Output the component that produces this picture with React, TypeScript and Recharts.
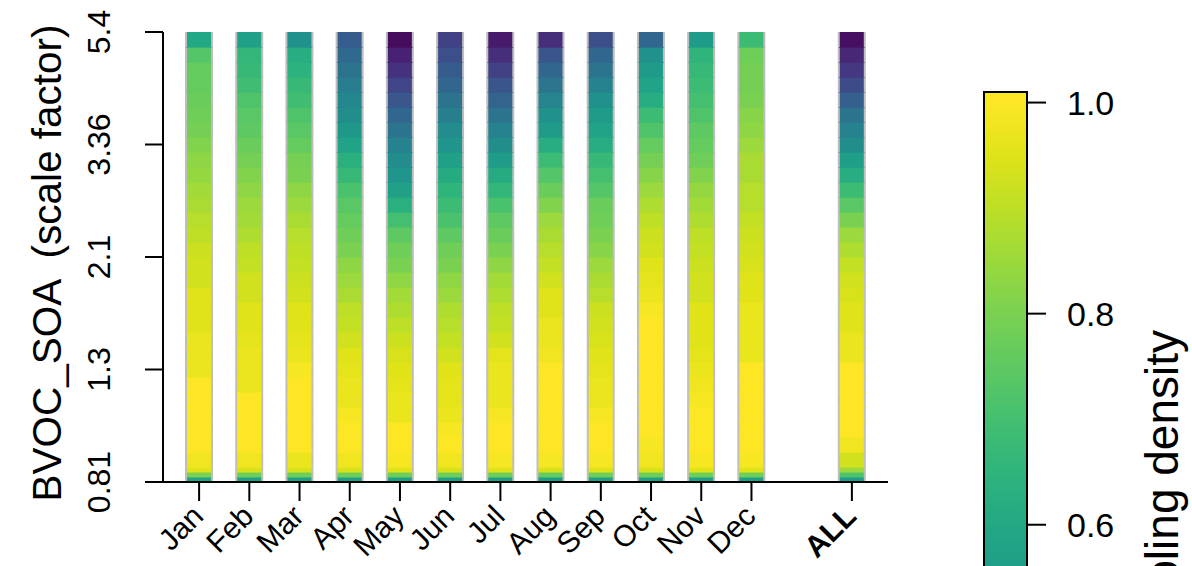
import React from 'react';
import { BarChart, Bar, Cell, XAxis, YAxis } from 'recharts';

// columns of the density strip plot (blank entry = gap before ALL)
const columns = ['Jan', 'Feb', 'Mar', 'Apr', 'May', 'Jun', 'Jul', 'Aug', 'Sep', 'Oct', 'Nov', 'Dec', '', 'ALL'];

// bin heights in level units: three thin bins at the bottom, then full bins up to 5.4
const binHeights = [0.34, 0.33, 0.33, ...Array(29).fill(1)];

// sampling density per bin, bottom (0.81) to top (5.4)
const jan = [0.58, 0.8, 0.95, 0.98, 1, 1, 1, 1, 1, 0.97, 0.97, 0.97, 0.95, 0.95, 0.95, 0.93, 0.93, 0.92, 0.9, 0.89, 0.87, 0.86, 0.84, 0.83, 0.81, 0.79, 0.78, 0.77, 0.76, 0.76, 0.73, 0.6];
const feb = [0.56, 0.78, 0.94, 0.98, 1, 1, 1, 1, 0.97, 0.97, 0.97, 0.96, 0.95, 0.95, 0.93, 0.93, 0.91, 0.9, 0.88, 0.86, 0.85, 0.83, 0.81, 0.79, 0.77, 0.75, 0.74, 0.72, 0.69, 0.67, 0.66, 0.57];
const mar = [0.56, 0.78, 0.94, 0.97, 1, 1, 1, 1, 1, 0.99, 0.97, 0.96, 0.95, 0.95, 0.93, 0.92, 0.91, 0.9, 0.89, 0.87, 0.85, 0.83, 0.8, 0.79, 0.76, 0.74, 0.72, 0.69, 0.67, 0.64, 0.62, 0.5];
const apr = [0.56, 0.78, 0.94, 0.98, 1, 1, 0.99, 0.97, 0.97, 0.96, 0.95, 0.93, 0.91, 0.9, 0.87, 0.85, 0.83, 0.8, 0.78, 0.76, 0.74, 0.71, 0.67, 0.63, 0.58, 0.53, 0.49, 0.46, 0.42, 0.38, 0.34, 0.29];
const may = [0.56, 0.78, 0.95, 0.99, 1, 1, 0.97, 0.97, 0.96, 0.95, 0.94, 0.92, 0.9, 0.88, 0.86, 0.83, 0.8, 0.78, 0.75, 0.7, 0.63, 0.57, 0.52, 0.48, 0.44, 0.38, 0.33, 0.27, 0.2, 0.14, 0.09, 0.03];
const jun = [0.56, 0.78, 0.94, 0.98, 1, 0.99, 0.97, 0.96, 0.96, 0.95, 0.93, 0.91, 0.89, 0.88, 0.85, 0.83, 0.8, 0.78, 0.75, 0.71, 0.68, 0.65, 0.61, 0.57, 0.52, 0.48, 0.43, 0.38, 0.33, 0.29, 0.24, 0.19];
const jul = [0.56, 0.78, 0.95, 0.99, 1, 1, 0.99, 0.97, 0.97, 0.97, 0.96, 0.93, 0.91, 0.9, 0.88, 0.86, 0.83, 0.8, 0.77, 0.75, 0.71, 0.66, 0.61, 0.55, 0.49, 0.44, 0.38, 0.32, 0.26, 0.19, 0.13, 0.07];
const aug = [0.55, 0.76, 0.94, 0.99, 1, 1, 1, 1, 1, 1, 0.98, 0.97, 0.97, 0.95, 0.95, 0.93, 0.91, 0.89, 0.87, 0.85, 0.81, 0.77, 0.73, 0.68, 0.62, 0.55, 0.5, 0.45, 0.39, 0.33, 0.26, 0.13];
const sep = [0.56, 0.78, 0.95, 0.99, 1, 1, 0.99, 0.97, 0.97, 0.96, 0.95, 0.94, 0.93, 0.92, 0.89, 0.87, 0.85, 0.82, 0.8, 0.78, 0.77, 0.73, 0.7, 0.67, 0.62, 0.58, 0.55, 0.5, 0.44, 0.38, 0.33, 0.24];
const oct = [0.56, 0.78, 0.94, 0.98, 0.99, 1, 1, 1, 1, 1, 1, 1, 1, 0.99, 0.97, 0.96, 0.95, 0.93, 0.92, 0.9, 0.88, 0.85, 0.82, 0.79, 0.76, 0.72, 0.68, 0.62, 0.58, 0.55, 0.5, 0.33];
const nov = [0.56, 0.78, 0.95, 0.99, 1, 1, 1, 0.99, 0.98, 0.97, 0.96, 0.95, 0.95, 0.95, 0.93, 0.93, 0.92, 0.91, 0.9, 0.88, 0.86, 0.84, 0.81, 0.78, 0.76, 0.75, 0.72, 0.7, 0.68, 0.67, 0.65, 0.55];
const dec = [0.56, 0.78, 0.95, 0.99, 1, 1, 1, 1, 1, 1, 0.97, 0.97, 0.97, 0.97, 0.95, 0.95, 0.94, 0.93, 0.92, 0.91, 0.89, 0.89, 0.87, 0.87, 0.85, 0.83, 0.82, 0.8, 0.79, 0.79, 0.78, 0.68];
const all = [0.55, 0.72, 0.85, 0.93, 0.98, 1, 1, 1, 1, 1, 0.97, 0.97, 0.95, 0.95, 0.94, 0.93, 0.91, 0.88, 0.85, 0.8, 0.74, 0.68, 0.62, 0.56, 0.49, 0.44, 0.38, 0.3, 0.23, 0.16, 0.11, 0.04];

const densities: number[][] = [jan, feb, mar, apr, may, jun, jul, aug, sep, oct, nov, dec, [], all];

// y axis: level positions (log spaced) and their labels
const yTickLevels = [0, 7.5, 15, 22.5, 30];
const yTickLabels = ['0.81', '1.3', '2.1', '3.36', '5.4'];

// colour bar
const legendTicks = [0.2, 0.4, 0.6, 0.8, 1.0];
const legendMax = 1.01;

// viridis, every 0.05
const viridis = [
    '#440154', '#471365', '#482475', '#463480', '#414487', '#3b528b', '#355f8d',
    '#2f6c8e', '#2a788e', '#25848e', '#21918c', '#1e9c89', '#22a884', '#2fb47c',
    '#44bf70', '#5ec962', '#7ad151', '#9bd93c', '#bddf26', '#dfe318', '#fde725'
];

const FONT = '"Liberation Sans", Arial, Helvetica, sans-serif';
const levelTop = binHeights.reduce((s, h) => s + h, 0);
const binKeys = binHeights.map((_, i) => `b${i}`);

function viridisColor(d: number) {
    const t = Math.max(0, Math.min(1, d)) * (viridis.length - 1);
    const i = Math.min(Math.floor(t), viridis.length - 2);
    const f = t - i;
    const a = viridis[i], b = viridis[i + 1];
    const ch = (s: string, k: number) => parseInt(s.slice(1 + 2 * k, 3 + 2 * k), 16);
    const mix = [0, 1, 2].map(k => Math.round(ch(a, k) + (ch(b, k) - ch(a, k)) * f));
    return `rgb(${mix.join(',')})`;
}

const tableData = columns.map((name, c) => {
    const row: any = { name };
    densities[c].forEach((_, i) => { row[binKeys[i]] = binHeights[i]; });
    return row;
});

const legendData = [{ name: 'density', value: legendMax }];

const Segment = (props: any) => {
    const { x, y, width, height, fill } = props;
    if (!height) return null;
    return (
        <g>
            <rect x={x} y={y} width={width} height={height + 0.6} fill={fill} />
            <line x1={x} x2={x} y1={y} y2={y + height} stroke="#bebebe" strokeWidth={2} />
            <line x1={x + width} x2={x + width} y1={y} y2={y + height} stroke="#bebebe" strokeWidth={2} />
        </g>
    );
};

const MonthTick = (props: any) => {
    const { x, y, payload } = props;
    if (!payload.value) return null;
    const ax = x + 6;
    const ay = y + 36;
    return (
        <g>
            <line x1={x} x2={x} y1={y} y2={y + 19} stroke="#000" strokeWidth={2} />
            <text
                x={ax}
                y={ay}
                textAnchor="end"
                transform={`rotate(-45, ${ax}, ${ay})`}
                fontFamily={FONT}
                fontSize={30}
                fontWeight={payload.value === 'ALL' ? 'bold' : 'normal'}
                fill="#000"
            >
                {payload.value}
            </text>
        </g>
    );
};

const LevelTick = (props: any) => {
    const { x, y, payload } = props;
    const idx = yTickLevels.indexOf(payload.value);
    const bx = x - 53;
    return (
        <g>
            <line x1={x - 18} x2={x} y1={y} y2={y} stroke="#000" strokeWidth={2} />
            <text
                x={bx}
                y={y}
                textAnchor="middle"
                transform={`rotate(-90, ${bx}, ${y})`}
                fontFamily={FONT}
                fontSize={32}
                fill="#000"
            >
                {yTickLabels[idx]}
            </text>
        </g>
    );
};

const YTitle = (props: any) => {
    const { viewBox } = props;
    const tx = viewBox.x + 61;
    const ty = viewBox.y + viewBox.height / 2 + 6;
    return (
        <text
            x={tx}
            y={ty}
            textAnchor="middle"
            transform={`rotate(-90, ${tx}, ${ty})`}
            fontFamily={FONT}
            fontSize={40.5}
            fill="#000"
            style={{ whiteSpace: 'pre' }}
        >
            {'BVOC_SOA  (scale factor)'}
        </text>
    );
};

const LegendTitle = (props: any) => {
    const { viewBox } = props;
    const tx = viewBox.x + 151;
    const ty = 330;
    return (
        <text
            x={tx}
            y={ty}
            textAnchor="end"
            transform={`rotate(-90, ${tx}, ${ty})`}
            fontFamily={FONT}
            fontSize={46}
            fill="#000"
        >
            Sampling density
        </text>
    );
};

const boxLine = { stroke: '#000', strokeWidth: 2 };

export default function App() {
    return (
        <div style={{ position: 'relative', width: 1192, height: 566, overflow: 'hidden', background: '#fff' }}>
            <style>{`body { margin: 0; }`}</style>
            <div style={{ position: 'absolute', left: 0, top: 0 }}>
                <BarChart
                    width={1192}
                    height={566}
                    data={tableData}
                    margin={{ top: 32, right: 304, bottom: 0, left: 0 }}
                    barSize={26}
                >
                    <XAxis
                        dataKey="name"
                        interval={0}
                        padding={{ left: 11, right: 11 }}
                        height={84}
                        tickLine={false}
                        tickSize={0}
                        tickMargin={0}
                        axisLine={boxLine}
                        tick={<MonthTick />}
                    />
                    <XAxis
                        xAxisId="top"
                        orientation="top"
                        dataKey="name"
                        padding={{ left: 11, right: 11 }}
                        height={0}
                        tick={false}
                        tickLine={false}
                        axisLine={boxLine}
                    />
                    <YAxis
                        type="number"
                        domain={[0, levelTop]}
                        ticks={yTickLevels}
                        interval={0}
                        allowDataOverflow
                        width={163}
                        tickLine={false}
                        tickSize={0}
                        tickMargin={0}
                        axisLine={boxLine}
                        tick={<LevelTick />}
                        label={{ content: <YTitle /> }}
                    />
                    <YAxis
                        yAxisId="right"
                        orientation="right"
                        type="number"
                        domain={[0, levelTop]}
                        width={0}
                        tick={false}
                        tickLine={false}
                        axisLine={boxLine}
                    />
                    {binKeys.map((key, i) => (
                        <Bar key={key} dataKey={key} stackId="strip" isAnimationActive={false} shape={<Segment />}>
                            {columns.map((name, c) => (
                                <Cell key={c} fill={densities[c].length ? viridisColor(densities[c][i]) : 'none'} />
                            ))}
                        </Bar>
                    ))}
                </BarChart>
            </div>
            <div style={{ position: 'absolute', left: 0, top: 0 }}>
                <BarChart
                    width={1192}
                    height={1158}
                    data={legendData}
                    margin={{ top: 92, right: 65, bottom: 0, left: 984 }}
                    barCategoryGap={0}
                >
                    <defs>
                        <linearGradient id="viridisBar" x1="0" y1="1" x2="0" y2="0">
                            {viridis.map((c, k) => (
                                <stop key={k} offset={(k / (viridis.length - 1)) / legendMax} stopColor={c} />
                            ))}
                        </linearGradient>
                    </defs>
                    <XAxis dataKey="name" hide />
                    <YAxis
                        orientation="right"
                        type="number"
                        domain={[0, legendMax]}
                        ticks={legendTicks}
                        interval={0}
                        width={100}
                        axisLine={false}
                        tickLine={{ stroke: '#000', strokeWidth: 2 }}
                        tickSize={19}
                        tickMargin={21}
                        tickFormatter={(v: number) => v.toFixed(1)}
                        tick={{ fontFamily: FONT, fontSize: 34, fill: '#000' }}
                        label={{ content: <LegendTitle /> }}
                    />
                    <Bar dataKey="value" fill="url(#viridisBar)" stroke="#000" strokeWidth={2} isAnimationActive={false} />
                </BarChart>
            </div>
        </div>
    );
}
